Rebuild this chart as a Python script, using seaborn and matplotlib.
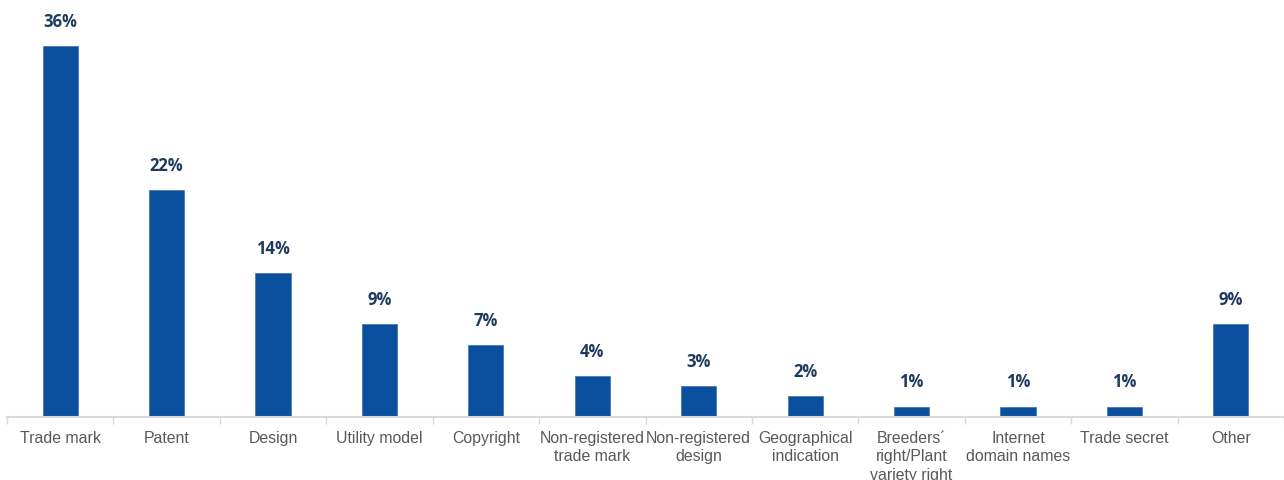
import matplotlib
matplotlib.use("Agg")
import matplotlib.pyplot as plt
import seaborn as sns
import pandas as pd
import numpy as np

categories = ["Trade mark", "Patent", "Design", "Utility model", "Copyright",
              "Non-registered\ntrade mark", "Non-registered\ndesign",
              "Geographical\nindication", "Breeders´\nright/Plant\nvariety right",
              "Internet\ndomain names", "Trade secret", "Other"]
values = [36, 22, 14, 9, 7, 4, 3, 2, 1, 1, 1, 9]

sns.set_theme(style="white")
plt.rcParams['font.family'] = ['Liberation Sans', 'DejaVu Sans']

df = pd.DataFrame({"cat": categories, "val": values})

fig = plt.figure(figsize=(12.84, 4.8), dpi=100)
ax = fig.add_axes([7/1284, 63/480, 1 - 7/1284, 1 - 63/480])
sns.barplot(data=df, x="cat", y="val", color="#0A509F", width=0.33, ax=ax,
            saturation=1, edgecolor="#3B6FB0", linewidth=0.5)
ax.set_ylim(0, 40.5)
ax.set_xlim(-0.5, len(categories) - 0.5)
ax.set_xlabel("")
ax.set_ylabel("")
ax.set_yticks([])
for s in ["top", "right", "left"]:
    ax.spines[s].set_visible(False)
ax.spines["bottom"].set_color("#D9D9D9")
ax.spines["bottom"].set_linewidth(1.5)

ax.set_xticks(range(len(categories)))
ax.set_xticklabels(categories, fontsize=11.4, color="#595959", linespacing=1.3)
ax.tick_params(axis="x", which="major", length=0, pad=10)
ax.set_xticks(np.arange(-0.5, len(categories), 1), minor=True)
ax.tick_params(axis="x", which="minor", length=5, width=1, color="#D9D9D9", bottom=True)

for i, v in enumerate(values):
    ax.annotate(f"{v}%", (i, v), xytext=(0, 11), textcoords="offset points",
                ha="center", va="bottom", fontsize=12, fontweight="bold",
                color="#1F3A5F", family=["Open Sans", "DejaVu Sans"])

fig.savefig("out.png", dpi=100)
